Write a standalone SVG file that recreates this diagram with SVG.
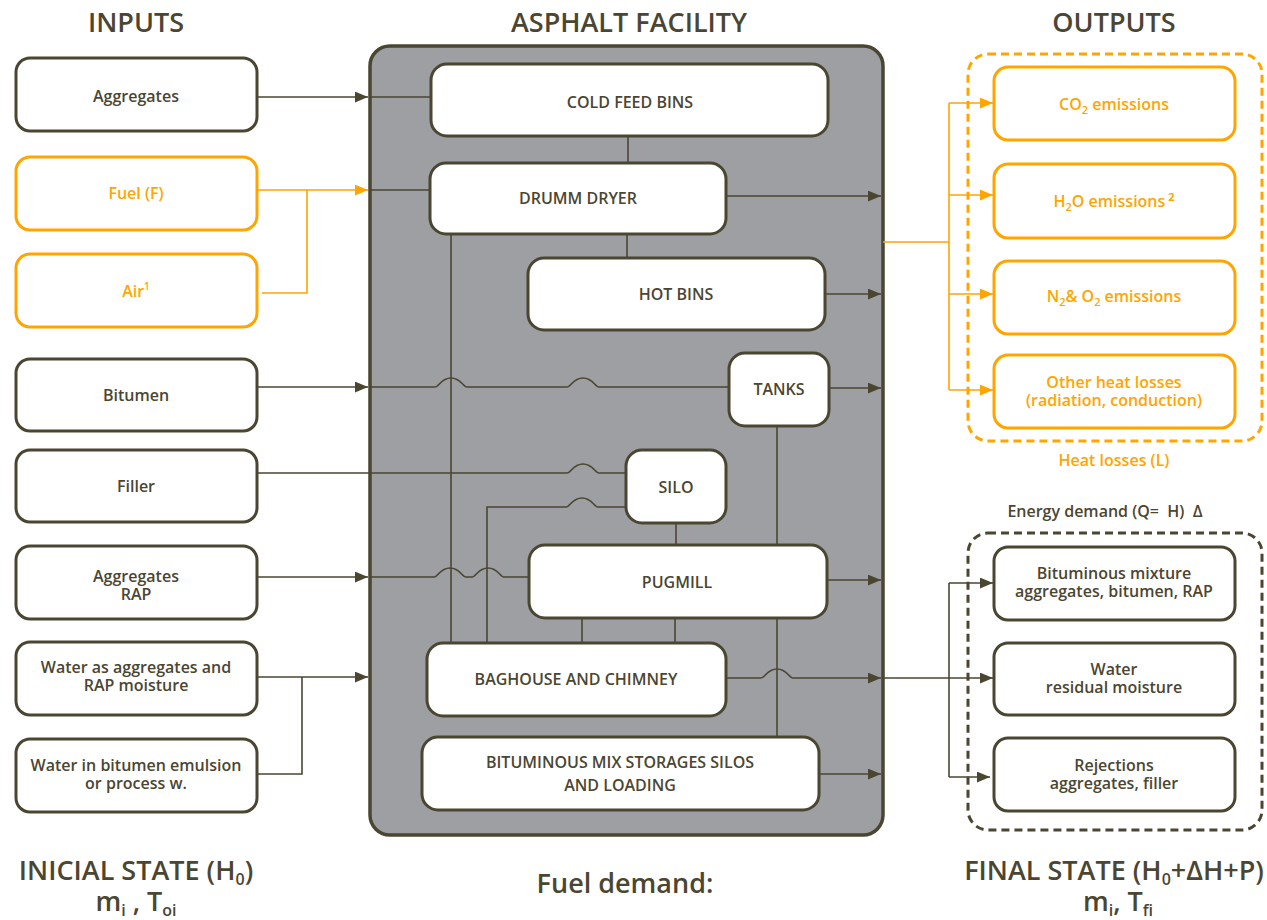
<svg xmlns="http://www.w3.org/2000/svg" width="1267" height="920" viewBox="0 0 1267 920">
<defs>
<style>
text{font-family:"Open Sans","DejaVu Sans",sans-serif;text-anchor:middle}
.t{fill:#4b4631;font-size:16px;font-weight:600}
.to{fill:#ffa500;font-size:16px;font-weight:600}
.h{fill:#4b4631;font-size:27px;font-weight:600}
.b{fill:#fff;stroke:#4b4631;stroke-width:3}
.bo{fill:#fff;stroke:#ffa500;stroke-width:3}
.c{fill:none;stroke:#4b4631;stroke-width:1.6}
.co{fill:none;stroke:#ffa500;stroke-width:1.6}
.ad{marker-end:url(#ad)}
.ao{marker-end:url(#ao)}
</style>
<marker id="ad" viewBox="0 0 12 10" refX="12" refY="5" markerWidth="13" markerHeight="11" markerUnits="userSpaceOnUse" orient="auto"><path d="M0,0 L12,5 L0,10 z" fill="#4b4631"/></marker>
<marker id="ao" viewBox="0 0 12 10" refX="12" refY="5" markerWidth="13" markerHeight="11" markerUnits="userSpaceOnUse" orient="auto"><path d="M0,0 L12,5 L0,10 z" fill="#ffa500"/></marker>
</defs>
<rect width="1267" height="920" fill="#fff"/>

<g id="titles">
<text class="h" x="136" y="32">INPUTS</text>
<text class="h" x="629" y="32">ASPHALT FACILITY</text>
<text class="h" x="1114" y="32">OUTPUTS</text>
</g>

<g id="facility">
<rect x="370" y="46" width="513" height="789" rx="20" fill="#9d9fa2" stroke="#4b4631" stroke-width="3.5"/>
</g>

<g id="containers">
<rect x="968" y="54" width="294" height="387" rx="20" fill="none" stroke="#ffa500" stroke-width="3" stroke-dasharray="8,5"/>
<rect x="968" y="533" width="294" height="297" rx="20" fill="none" stroke="#4b4631" stroke-width="3" stroke-dasharray="8,5"/>
</g>

<g id="connectors">
<path class="c ad" d="M257,97 H368"/>
<path class="c" d="M370,97 H431"/>
<path class="co ao" d="M257,190 H368"/>
<path class="co" d="M262,293 H307 V190"/>
<path class="c" d="M370,190 H430"/>
<path class="c ad" d="M257,387 H368"/>
<path class="c" d="M370,387 H435 C439,387 441,378 451,378 C461,378 463,387 467,387 H567 C571,387 573,378 583,378 C593,378 595,387 599,387 H729"/>
<path class="c" d="M257,473 H567 C571,473 573,464 583,464 C593,464 595,473 599,473 H626"/>
<path class="c" d="M487,643 V507 H566 C570,507 572,498 582,498 C592,498 594,507 598,507 H626"/>
<path class="c ad" d="M257,577 H368"/>
<path class="c" d="M370,577 H434 C438,577 440,568 450,568 C460,568 462,577 466,577 H472 C476,577 478,568 488,568 C498,568 500,577 504,577 H529"/>
<path class="c ad" d="M257,677 H368"/>
<path class="c" d="M257,774 H302 V677"/>
<path class="c" d="M628,136 V163"/>
<path class="c" d="M627,234 V258"/>
<path class="c" d="M451,234 V643"/>
<path class="c ad" d="M726,196 H881"/>
<path class="c ad" d="M825,294 H881"/>
<path class="c ad" d="M829,388 H881"/>
<path class="c" d="M777,427 V545"/>
<path class="c" d="M676,523 V545"/>
<path class="c ad" d="M827,580 H881"/>
<path class="c" d="M582,618 V643"/>
<path class="c" d="M675,618 V643"/>
<path class="c" d="M777,618 V737"/>
<path class="c ad" d="M726,678 H761 C765,678 767,669 777,669 C787,669 789,678 793,678 H881"/>
<path class="c ad" d="M883,678 H993"/>
<path class="c ad" d="M819,774 H881"/>
<path class="co" d="M883,242 H949 M949,103 V390"/>
<path class="co ao" d="M949,103 H993"/>
<path class="co ao" d="M949,195 H993"/>
<path class="co ao" d="M949,294 H993"/>
<path class="co ao" d="M949,390 H993"/>
<path class="c" d="M949,583 V777"/>
<path class="c ad" d="M949,583 H993"/>
<path class="c ad" d="M949,777 H990"/>
</g>

<g id="in-aggregates"><rect class="b" x="16" y="58" width="241" height="73" rx="14"/><text class="t" x="136" y="102">Aggregates</text></g>
<g id="in-fuel"><rect class="bo" x="16" y="157" width="241" height="73" rx="14"/><text class="to" x="136" y="199">Fuel (F)</text></g>
<g id="in-air"><rect class="bo" x="16" y="254" width="241" height="73" rx="14"/><text class="to" x="136" y="297">Air<tspan font-size="10" dy="-7">1</tspan></text></g>
<g id="in-bitumen"><rect class="b" x="16" y="359" width="241" height="72" rx="14"/><text class="t" x="136" y="401">Bitumen</text></g>
<g id="in-filler"><rect class="b" x="16" y="450" width="241" height="72" rx="14"/><text class="t" x="136" y="492">Filler</text></g>
<g id="in-rap"><rect class="b" x="16" y="546" width="241" height="73" rx="14"/><text class="t" x="136" y="582">Aggregates</text><text class="t" x="136" y="600">RAP</text></g>
<g id="in-water1"><rect class="b" x="16" y="642" width="241" height="73" rx="14"/><text class="t" x="136" y="673">Water as aggregates and</text><text class="t" x="136" y="691">RAP moisture</text></g>
<g id="in-water2"><rect class="b" x="16" y="739" width="241" height="73" rx="14"/><text class="t" x="136" y="771">Water in bitumen emulsion</text><text class="t" x="136" y="789">or process w.</text></g>

<g id="cold-feed-bins"><rect class="b" x="431" y="64" width="397" height="72" rx="16"/><text class="t" x="630" y="108">COLD FEED BINS</text></g>
<g id="drumm-dryer"><rect class="b" x="430" y="163" width="296" height="71" rx="16"/><text class="t" x="578" y="204">DRUMM DRYER</text></g>
<g id="hot-bins"><rect class="b" x="528" y="258" width="297" height="72" rx="16"/><text class="t" x="676" y="300">HOT BINS</text></g>
<g id="tanks"><rect class="b" x="729" y="353" width="100" height="73" rx="16"/><text class="t" x="779" y="395">TANKS</text></g>
<g id="silo"><rect class="b" x="626" y="450" width="100" height="73" rx="16"/><text class="t" x="676" y="493">SILO</text></g>
<g id="pugmill"><rect class="b" x="529" y="545" width="298" height="73" rx="16"/><text class="t" x="677" y="588">PUGMILL</text></g>
<g id="baghouse"><rect class="b" x="427" y="643" width="299" height="73" rx="16"/><text class="t" x="576" y="685">BAGHOUSE AND CHIMNEY</text></g>
<g id="storage"><rect class="b" x="422" y="737" width="397" height="73" rx="16"/><text class="t" x="620" y="768">BITUMINOUS MIX STORAGES SILOS</text><text class="t" x="620" y="791">AND LOADING</text></g>

<g id="out-co2"><rect class="bo" x="994" y="67" width="241" height="73" rx="14"/><text class="to" x="1114" y="110">CO<tspan font-size="11" dy="4">2</tspan><tspan dy="-4"> emissions</tspan></text></g>
<g id="out-h2o"><rect class="bo" x="994" y="164" width="241" height="74" rx="14"/><text class="to" x="1114" y="207">H<tspan font-size="11" dy="4">2</tspan><tspan dy="-4">O emissions</tspan><tspan font-size="11" font-weight="700" dy="-6"> 2</tspan></text></g>
<g id="out-n2o2"><rect class="bo" x="994" y="261" width="241" height="73" rx="14"/><text class="to" x="1114" y="302">N<tspan font-size="11" dy="4">2</tspan><tspan dy="-4">&amp; O</tspan><tspan font-size="11" dy="4">2</tspan><tspan dy="-4"> emissions</tspan></text></g>
<g id="out-heat"><rect class="bo" x="994" y="355" width="241" height="73" rx="14"/><text class="to" x="1114" y="388">Other heat losses</text><text class="to" x="1114" y="406">(radiation, conduction)</text></g>
<text class="to" x="1114" y="466" font-size="17">Heat losses (L)</text>

<text class="t" x="1105" y="517" xml:space="preserve">Energy demand (Q=  H)  Δ</text>
<g id="out-mixture"><rect class="b" x="994" y="547" width="241" height="73" rx="14"/><text class="t" x="1114" y="579">Bituminous mixture</text><text class="t" x="1114" y="597">aggregates, bitumen, RAP</text></g>
<g id="out-water"><rect class="b" x="994" y="643" width="241" height="72" rx="14"/><text class="t" x="1114" y="675">Water</text><text class="t" x="1114" y="693">residual moisture</text></g>
<g id="out-rejections"><rect class="b" x="994" y="738" width="241" height="73" rx="14"/><text class="t" x="1114" y="771">Rejections</text><text class="t" x="1114" y="789">aggregates, filler</text></g>

<g id="footer">
<text class="h" x="136" y="880" font-size="25">INICIAL STATE (H<tspan font-size="16" dy="5">0</tspan><tspan dy="-5">)</tspan></text>
<text class="h" x="136" y="911" font-size="25">m<tspan font-size="16" dy="5">i</tspan><tspan dy="-5"> , T</tspan><tspan font-size="16" dy="5">oi</tspan></text>
<text class="h" x="625" y="893" font-size="25">Fuel demand:</text>
<text class="h" x="1114" y="880" font-size="25">FINAL STATE (H<tspan font-size="16" dy="5">0</tspan><tspan dy="-5">+ΔH+P)</tspan></text>
<text class="h" x="1118" y="911" font-size="25">m<tspan font-size="16" dy="5">i</tspan><tspan dy="-5">, T</tspan><tspan font-size="16" dy="5">fi</tspan></text>
</g>
</svg>
